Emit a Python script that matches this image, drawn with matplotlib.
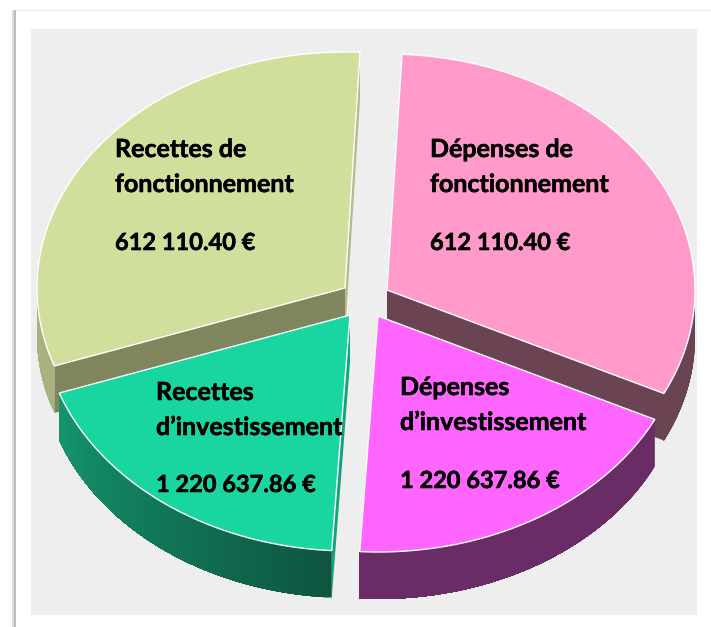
import numpy as np
import matplotlib
matplotlib.use('Agg')
import matplotlib.pyplot as plt
import matplotlib.patheffects as pe
from matplotlib.colors import to_rgb
from matplotlib.patches import Polygon, Rectangle

# Slices, clockwise from the top-right one
names = [['Dépenses de', 'fonctionnement'], ['Dépenses', 'd’investissement'],
         ['Recettes', 'd’investissement'], ['Recettes de', 'fonctionnement']]
amounts = ['612 110.40 €', '1 220 637.86 €', '1 220 637.86 €', '612 110.40 €']
# Sweep of each slice (degrees)
sweeps = [113.2, 67.4, 67.3, 112.1]

# How far each slice is pulled out of the pie (pixels)
shift_x = [25, 16, -12, -17]
shift_y = [-12, 14, 13, -14]

top_colors = ['#FF9ACB', '#FF66FF', '#19D6A1', '#D0DF9B']
wall_near = ['#6B4454', '#692C66', '#0E5540', '#A9B27F']
wall_far = ['#6B4454', '#692C66', '#14966F', '#A9B27F']
cut_start = ['#6B4454', '#692C66', '#12A47C', '#7F855C']
cut_end = ['#6B4454', '#692C66', '#12A47C', '#B4BC8A']

# Text anchors (left, baselines)
text_x = [430, 400, 156, 115]
text_y = [[157, 192, 250], [395, 430, 488], [400, 435, 492], [157, 192, 250]]

start_angle = 2.8
cx, cy = 362, 302
rx, ry = 308, 236
depth = 47

fig = plt.figure(figsize=(7.11, 6.27), dpi=100, facecolor='white')
ax = fig.add_axes([0, 0, 1, 1])
ax.set_xlim(0, 711)
ax.set_ylim(627, 0)
ax.axis('off')

# Frame and grey panel
ax.add_patch(Rectangle((13, 9.5), 698, 1.5, color='#EAEAEA', lw=0))
ax.add_patch(Rectangle((12, 10), 1.5, 617, color='#DADADA', lw=0))
ax.add_patch(Rectangle((13.5, 10), 2, 617, color='#BDBDBD', lw=0))
ax.add_patch(Rectangle((31, 29), 666, 586, color='#EEEEEE', lw=0))

# Start and end angle of each slice
ends = start_angle + np.cumsum(sweeps)
starts = ends - np.array(sweeps)


def rim(angles, x0, y0):
    t = np.radians(angles)
    return x0 + rx * np.sin(t), y0 - ry * np.cos(t)


def draw_slice(i, z):
    t0, t1 = starts[i], ends[i]
    x0 = cx + shift_x[i]
    y0 = cy + shift_y[i]

    # Flat cut faces, only when they turn towards the viewer
    for t, normal, col in [(t0, t0 - 90, cut_start[i]), (t1, t1 + 90, cut_end[i])]:
        if np.cos(np.radians(normal)) < 0:
            xe, ye = rim(np.array([t]), x0, y0)
            pts = [(x0, y0), (xe[0], ye[0]), (xe[0], ye[0] + depth), (x0, y0 + depth)]
            ax.add_patch(Polygon(pts, closed=True, fc=col, ec='none', zorder=z))

    # Outer wall on the lower half of the rim, each step painted over the rest for the shading
    grid = np.linspace(t0, t1, 121)
    grid = grid[np.cos(np.radians(grid)) <= 0]
    if len(grid) > 1:
        xs, ys = rim(grid, x0, y0)
        c_a = np.array(to_rgb(wall_near[i]))
        c_b = np.array(to_rgb(wall_far[i]))
        for k in range(len(grid) - 1):
            col = c_a + (c_b - c_a) * k / (len(grid) - 1)
            pts = np.r_[np.column_stack([xs[k:], ys[k:]]),
                        np.column_stack([xs[k:], ys[k:] + depth])[::-1]]
            ax.add_patch(Polygon(pts, closed=True, fc=col, ec='none', zorder=z))

    # Top face with its thin white outline
    arc = np.linspace(t0, t1, 200)
    xs, ys = rim(arc, x0, y0)
    pts = np.column_stack([np.r_[x0, xs], np.r_[y0, ys]])
    ax.add_patch(Polygon(pts, closed=True, fc=top_colors[i], ec='white', lw=1.0,
                         joinstyle='miter', zorder=z))


# Back slices first so the front ones cover them
for z, i in enumerate([3, 0, 2, 1]):
    draw_slice(i, 2 + z)

# Thin stroke because Lato bold is lighter than the original lettering
heavier = [pe.withStroke(linewidth=0.4, foreground='black')]
for i in range(4):
    for line, y in zip(names[i], text_y[i]):
        ax.text(text_x[i], y, line, family='Lato', fontweight='bold', fontsize=18,
                color='black', ha='left', va='baseline', zorder=10, path_effects=heavier)
    ax.text(text_x[i], text_y[i][2], amounts[i], family='Lato', fontweight='bold', fontsize=17,
            color='black', ha='left', va='baseline', zorder=10, path_effects=heavier)

fig.savefig('out.png', dpi=100, facecolor='white')
